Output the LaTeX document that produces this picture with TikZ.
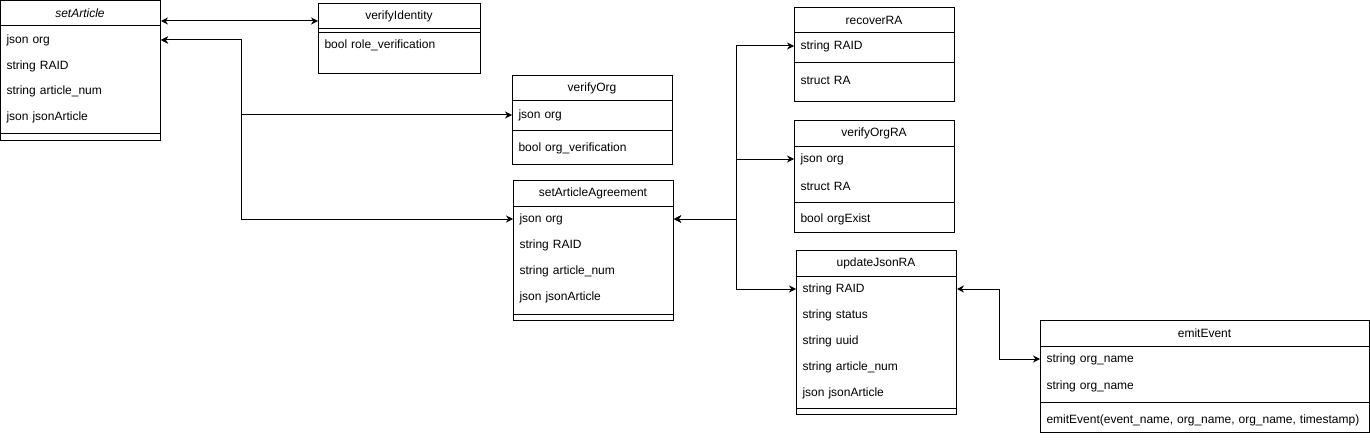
\documentclass[tikz,border=0pt]{standalone}
\usepackage{fontspec}
\setmainfont{Liberation Sans}
\usetikzlibrary{arrows.meta, positioning, calc}

\tikzset{
  cls/.style={draw, anchor=north west, inner sep=0pt},
  attr/.style={anchor=west, inner xsep=6pt, inner ysep=0pt, align=left, text width=#1},
  attr/.default=148pt,
  link/.style={{Stealth[length=7pt,width=7pt]}-{Stealth[length=7pt,width=7pt]}},
}

\begin{document}
\begin{tikzpicture}[x=1pt, y=-1pt, line width=1pt, font=\fontsize{12}{14}\selectfont]
    \useasboundingbox (0,0) rectangle (1370,441);

    % setArticle
    \node[cls, minimum width=160pt, minimum height=140pt] (sa) at (0,0) {};
    \node (sa-t) at (80,13) {\itshape setArticle};
    \draw (sa.north west) ++(0,26) -- ++(160,0);
    \node[attr] (sa-org) at (0,40) {json org};
    \node[attr] (sa-raid) at (0,66) {string RAID};
    \node[attr] (sa-num) at (0,91) {string article\_num};
    \node[attr] (sa-json) at (0,117) {json jsonArticle};
    \draw (sa.north west) ++(0,134) -- ++(160,0);

    % verifyIdentity
    \node[cls, minimum width=162pt, minimum height=70pt] (vi) at (318,3) {};
    \node (vi-t) at (399,16) {verifyIdentity};
    \draw (vi.north west) ++(0,26) -- ++(162,0);
    \draw (vi.north west) ++(0,30) -- ++(162,0);
    \node[attr=150pt] (vi-role) at (318,45) {bool role\_verification};

    % verifyOrg
    \node[cls, minimum width=160pt, minimum height=89pt] (vo) at (512,75) {};
    \node (vo-t) at (592,88) {verifyOrg};
    \draw (vo.north west) ++(0,26) -- ++(160,0);
    \node[attr] (vo-org) at (512,115) {json org};
    \draw (vo.north west) ++(0,56) -- ++(160,0);
    \node[attr] (vo-ver) at (512,148) {bool org\_verification};

    % setArticleAgreement
    \node[cls, minimum width=160pt, minimum height=140pt] (saa) at (513,180) {};
    \node (saa-t) at (593,193) {setArticleAgreement};
    \draw (saa.north west) ++(0,26) -- ++(160,0);
    \node[attr] (saa-org) at (513,219) {json org};
    \node[attr] (saa-raid) at (513,245) {string RAID};
    \node[attr] (saa-num) at (513,271) {string article\_num};
    \node[attr] (saa-json) at (513,297) {json jsonArticle};
    \draw (saa.north west) ++(0,134) -- ++(160,0);

    % recoverRA
    \node[cls, minimum width=160pt, minimum height=94pt] (ra) at (794,7) {};
    \node (ra-t) at (874,20) {recoverRA};
    \draw (ra.north west) ++(0,26) -- ++(160,0);
    \node[attr] (ra-raid) at (794,46) {string RAID};
    \draw (ra.north west) ++(0,56) -- ++(160,0);
    \node[attr] (ra-ra) at (794,80) {struct RA};

    % verifyOrgRA
    \node[cls, minimum width=160pt, minimum height=112pt] (vora) at (794,120) {};
    \node (vora-t) at (874,133) {verifyOrgRA};
    \draw (vora.north west) ++(0,26) -- ++(160,0);
    \node[attr] (vora-org) at (794,159) {json org};
    \node[attr] (vora-ra) at (794,186) {struct RA};
    \draw (vora.north west) ++(0,82) -- ++(160,0);
    \node[attr] (vora-ex) at (794,219) {bool orgExist};

    % updateJsonRA
    \node[cls, minimum width=160pt, minimum height=164pt] (uj) at (796,250) {};
    \node (uj-t) at (876,263) {updateJsonRA};
    \draw (uj.north west) ++(0,26) -- ++(160,0);
    \node[attr] (uj-raid) at (796,289) {string RAID};
    \node[attr] (uj-stat) at (796,315) {string status};
    \node[attr] (uj-uuid) at (796,341) {string uuid};
    \node[attr] (uj-num) at (796,367) {string article\_num};
    \node[attr] (uj-json) at (796,393) {json jsonArticle};
    \draw (uj.north west) ++(0,158) -- ++(160,0);

    % emitEvent
    \node[cls, minimum width=329pt, minimum height=112pt] (ee) at (1040,320) {};
    \node (ee-t) at (1204.5,333) {emitEvent};
    \draw (ee.north west) ++(0,26) -- ++(329,0);
    \node[attr=317pt] (ee-n1) at (1040,359) {string org\_name};
    \node[attr=317pt] (ee-n2) at (1040,386) {string org\_name};
    \draw (ee.north west) ++(0,82) -- ++(329,0);
    \node[attr=317pt] (ee-fn) at (1040,420) {emitEvent(event\_name, org\_name, org\_name, timestamp)};

    % Arrows
    \draw[link] ($(sa.north east)+(0,21)$) -- ($(vi.north west)+(0,18)$);
    \draw[link] (sa-org.east) -- ++(80,0) |- (vo-org.west);
    \draw[link] (sa-org.east) -- ++(80,0) |- (saa-org.west);
    \draw[link] (saa-org.east) -- ++(62,0) |- (ra-raid.west);
    \draw[link] (saa-org.east) -- ++(62,0) |- (vora-org.west);
    \draw[link] (saa-org.east) -- ++(62,0) |- (uj-raid.west);
    \draw[link] (uj-raid.east) -- ++(42,0) |- (ee-n1.west);
\end{tikzpicture}
\end{document}
